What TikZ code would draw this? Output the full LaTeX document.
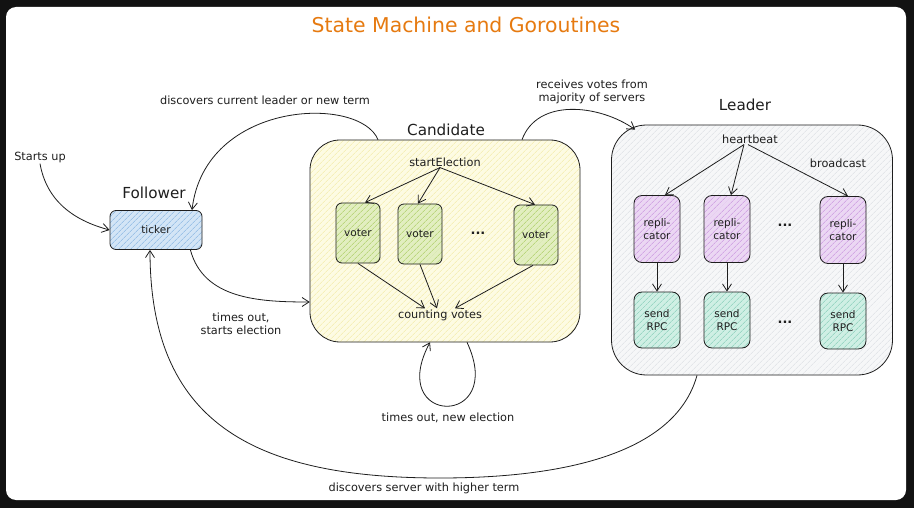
\documentclass[tikz,border=0pt]{standalone}
\usepackage{fontspec}
\setmainfont{DejaVu Sans}
\usetikzlibrary{arrows.meta,patterns.meta}
\definecolor{ink}{HTML}{1E1E1E}
\definecolor{frame}{HTML}{121212}
\definecolor{titleorange}{HTML}{E67A10}
\definecolor{tickfill}{HTML}{D3E5F6}
\definecolor{tickline}{HTML}{7FB0E0}
\definecolor{candfill}{HTML}{FDFBE3}
\definecolor{candline}{HTML}{F1E9A2}
\definecolor{votefill}{HTML}{E2EEC0}
\definecolor{voteline}{HTML}{A6CA5A}
\definecolor{leadfill}{HTML}{F6F7F8}
\definecolor{leadline}{HTML}{DADDE1}
\definecolor{replfill}{HTML}{EBD7F3}
\definecolor{replline}{HTML}{C68EDD}
\definecolor{rpcfill}{HTML}{CFEFE4}
\definecolor{rpcline}{HTML}{7ECAB3}
\begin{document}
\begin{tikzpicture}[x=1pt,y=1pt,
    >={Straight Barb[length=7pt,width=9pt]},
    lbl/.style={text=ink,font=\fontsize{11.3}{13.5}\selectfont,align=center,inner sep=1pt},
    boxtext/.style={text=ink,font=\fontsize{10.5}{13}\selectfont,align=center,inner sep=1pt},
    state/.style={text=ink,font=\fontsize{15.2}{18}\selectfont,inner sep=1pt},
    hatch/.style 2 args={draw=ink,line width=0.8pt,preaction={fill=#1},
      pattern={Lines[angle=45,distance=4pt,line width=0.5pt]},pattern color=#2},
    tickerbox/.style={hatch={tickfill}{tickline},rounded corners=6pt,minimum width=92pt,minimum height=39pt,boxtext},
    voterbox/.style={hatch={votefill}{voteline},rounded corners=6pt,minimum width=44pt,minimum height=60pt,boxtext},
    replbox/.style={hatch={replfill}{replline},rounded corners=8pt,minimum width=46pt,minimum height=67pt,boxtext},
    rpcbox/.style={hatch={rpcfill}{rpcline},rounded corners=8pt,minimum width=46pt,minimum height=56pt,boxtext},
    dots/.style={text=ink,font=\fontsize{13}{13}\selectfont\bfseries},
    flow/.style={->,draw=ink,line width=0.8pt}]
  \useasboundingbox (0,0) rectangle (914,-508);
  \fill[frame] (0,0) rectangle (914,-508);
  \fill[white,rounded corners=10pt] (6,-7) rectangle (906,-500);

  \node[text=titleorange,font=\fontsize{20.4}{24}\selectfont] (title) at (466,-25) {State Machine and Goroutines};

  \node[hatch={candfill}{candline},rounded corners=30pt,minimum width=270pt,minimum height=202pt] (cand) at (445,-241) {};
  \node[hatch={leadfill}{leadline},rounded corners=35pt,minimum width=281pt,minimum height=250pt] (lead) at (752,-250) {};
  \node[tickerbox] (ticker) at (156,-230) {ticker};

  \node[state] (followerlbl) at (154,-193) {Follower};
  \node[state] (candlbl) at (446,-130) {Candidate};
  \node[state] (leadlbl) at (745,-105) {Leader};

  \node[lbl] (startelection) at (445,-162) {startElection};
  \node[voterbox] (v1) at (358,-233) {voter};
  \node[voterbox] (v2) at (420,-234) {voter};
  \node[voterbox] (v3) at (536,-235) {voter};
  \node[dots] (vdots) at (478,-233) {...};
  \node[lbl] (counting) at (440,-315) {counting votes};

  \node[lbl] (heartbeat) at (750,-139) {heartbeat};
  \node[lbl] (broadcast) at (838,-163) {broadcast};
  \node[replbox] (r1) at (657,-229) {repli-\\cator};
  \node[replbox] (r2) at (727,-229) {repli-\\cator};
  \node[replbox] (r3) at (843,-230) {repli-\\cator};
  \node[dots] (rdots) at (785,-225) {...};
  \node[rpcbox] (s1) at (657,-320) {send\\RPC};
  \node[rpcbox] (s2) at (727,-320) {send\\RPC};
  \node[rpcbox] (s3) at (843,-321) {send\\RPC};
  \node[dots] (sdots) at (785,-322) {...};

  \node[lbl] (startsup) at (40,-157) {Starts up};
  \node[lbl] (discleader) at (265,-100) {discovers current leader or new term};
  \node[lbl] (recvotes) at (592,-92) {receives votes from\\majority of servers};
  \node[lbl] (timesout) at (241,-324) {times out,\\starts election};
  \node[lbl] (newelection) at (448,-418) {times out, new election};
  \node[lbl] (higherterm) at (424,-488) {discovers server with higher term};

  \draw[flow] (startsup.south) to[out=-80,in=165] (ticker.west);
  \draw[flow] ([xshift=-67pt]cand.north) .. controls (360,-95) and (205,-100) .. ([xshift=36pt]ticker.north);
  \draw[flow] ([xshift=-12pt]ticker.south east) to[out=-75,in=180] ([yshift=-61pt]cand.west);
  \draw[flow] ([xshift=77pt]cand.north) to[out=70,in=145] ([xshift=24pt,yshift=-5pt]lead.north west);
  \draw[flow] ([xshift=22pt]cand.south) to[out=-65,in=-118,looseness=6.6] ([xshift=-15pt]cand.south);
  \draw[flow] ([xshift=-55pt]lead.south) .. controls (675,-455) and (560,-478) .. (440,-478)
    .. controls (250,-478) and (150,-420) .. ([xshift=-6pt]ticker.south);

  \draw[flow] ([xshift=-5pt]startelection.south) -- ([xshift=7pt]v1.north);
  \draw[flow] ([xshift=-5pt]startelection.south) -- ([xshift=-2pt]v2.north);
  \draw[flow] ([xshift=-5pt]startelection.south) -- ([xshift=-1pt]v3.north);
  \draw[flow] (v1.south) -- ([xshift=-15pt]counting.north);
  \draw[flow] (v2.south) -- ([xshift=-3pt]counting.north);
  \draw[flow] ([xshift=-3pt]v3.south) -- ([xshift=15pt]counting.north);

  \draw[flow] ([xshift=-6pt]heartbeat.south) -- ([xshift=8pt]r1.north);
  \draw[flow] ([xshift=-6pt]heartbeat.south) -- ([xshift=4pt]r2.north);
  \draw[flow] ([xshift=-2pt]heartbeat.south) -- ([xshift=5pt]r3.north);
  \draw[flow] (r1) -- (s1);
  \draw[flow] (r2) -- (s2);
  \draw[flow] (r3) -- (s3);
\end{tikzpicture}
\end{document}
